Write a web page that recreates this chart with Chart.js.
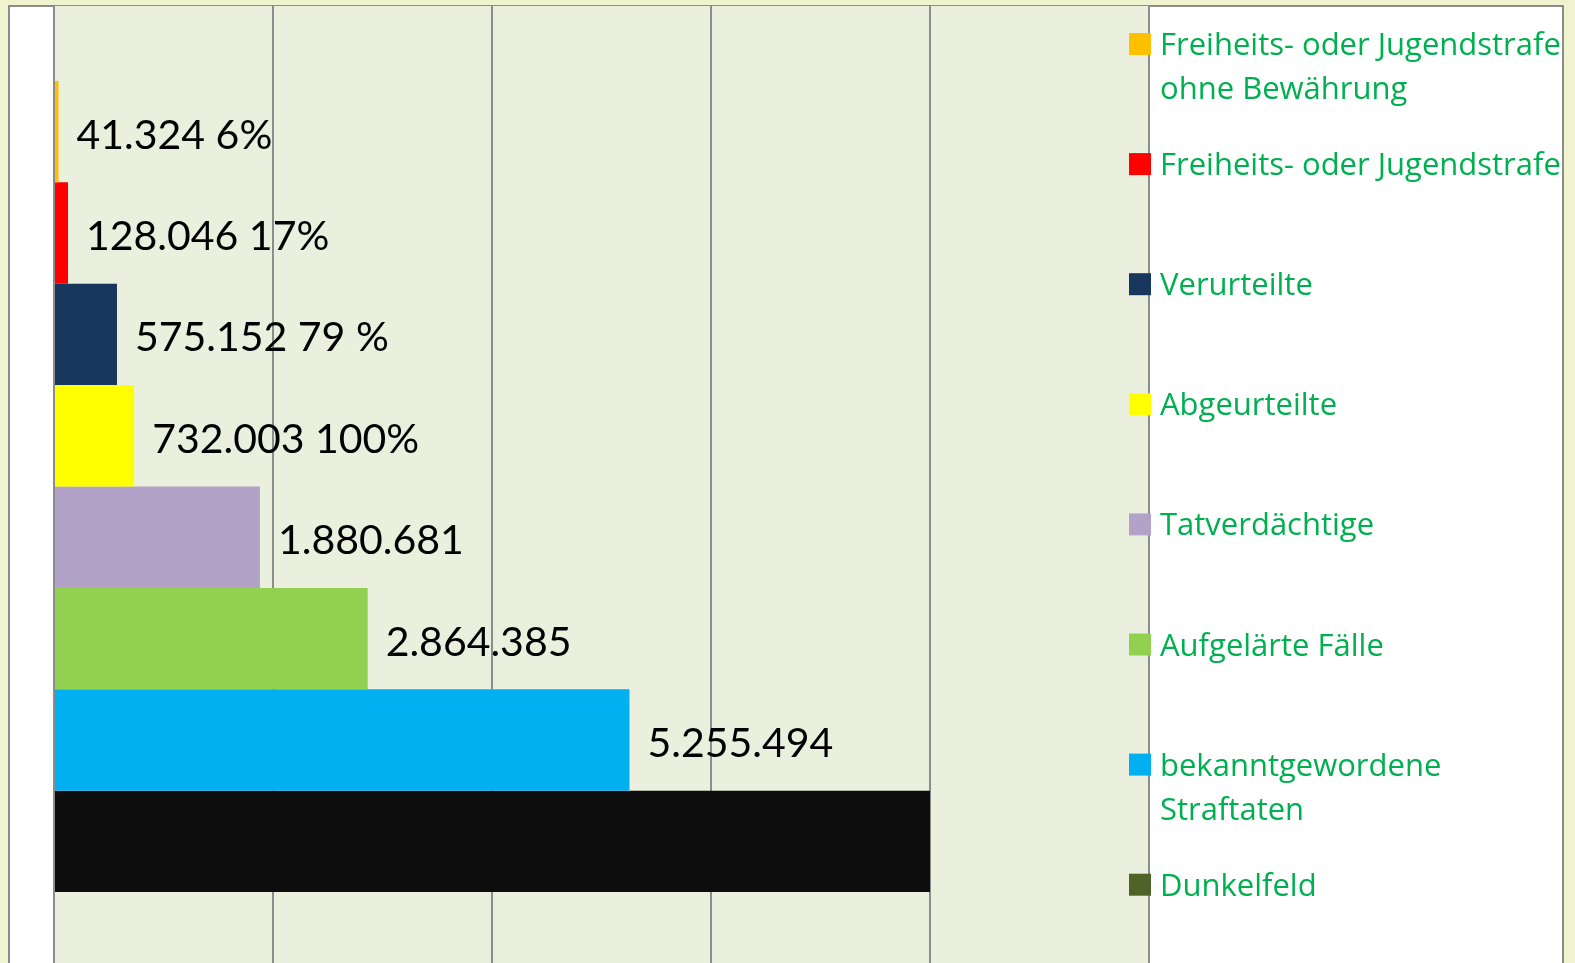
<!DOCTYPE html>
<html>
<head>
<meta charset="utf-8">
<script src="https://cdn.jsdelivr.net/npm/chart.js@4"></script>
<style>
  html, body { margin: 0; padding: 0; overflow: hidden; background: #eff4cf; }
  #wrap { width: 1575px; height: 963px; overflow: hidden; }
</style>
</head>
<body>
<div id="wrap"><canvas id="chart" width="1575" height="975"></canvas></div>
<script>
const seriesNames = [
  "Freiheits- oder Jugendstrafe\nohne Bewährung",
  "Freiheits- oder Jugendstrafe",
  "Verurteilte",
  "Abgeurteilte",
  "Tatverdächtige",
  "Aufgelärte Fälle",
  "bekanntgewordene\nStraftaten",
  "Dunkelfeld"
];
const seriesValues = [41324, 128046, 575152, 732003, 1880681, 2864385, 5255494, 8000000];
const valueLabels = ["41.324 6%", "128.046 17%", "575.152 79 %", "732.003 100%", "1.880.681", "2.864.385", "5.255.494", ""];
const barColors = ["#ffc000", "#ff0000", "#17375e", "#ffff00", "#b3a2c7", "#92d050", "#00b0f0", "#0d0d0d"];
const legendColors = ["#ffc000", "#ff0000", "#17375e", "#ffff00", "#b3a2c7", "#92d050", "#00b0f0", "#4f6228"];
const xTicks = [0, 2000000, 4000000, 6000000, 8000000, 10000000];

const frame = {
  id: "frame",
  beforeDraw(chart) {
    const { ctx, chartArea: a, width, height } = chart;
    ctx.save();
    ctx.fillStyle = "#eff4cf";
    ctx.fillRect(0, 0, width, height);
    ctx.fillStyle = "#ffffff";
    ctx.fillRect(9, 6, 1554, height - 8);
    ctx.strokeStyle = "#8c8c8c";
    ctx.lineWidth = 2;
    ctx.strokeRect(9, 6, 1554, height - 8);
    ctx.fillStyle = "#ebefde";
    ctx.fillRect(a.left, a.top, a.right - a.left, a.bottom - a.top);
    ctx.restore();
  },
  afterDraw(chart) {
    const { ctx, chartArea: a } = chart;
    ctx.save();
    // value labels next to the bars
    ctx.font = "41px Lato";
    ctx.fillStyle = "#000000";
    ctx.textAlign = "left";
    ctx.textBaseline = "alphabetic";
    chart.data.datasets.forEach((ds, i) => {
      const bar = chart.getDatasetMeta(i).data[0];
      if (!valueLabels[i]) return;
      ctx.fillText(valueLabels[i], bar.x + 18, bar.y + 17);
    });
    // legend, clipped by the outer frame like the original
    ctx.beginPath();
    ctx.rect(1100, 0, 463, chart.height);
    ctx.clip();
    ctx.font = "31px 'Open Sans'";
    chart.data.datasets.forEach((ds, i) => {
      const cy = a.top + 38 + i * 120.1;
      ctx.fillStyle = legendColors[i];
      ctx.fillRect(1129, cy - 11, 22, 22);
      ctx.fillStyle = "#00b050";
      seriesNames[i].split("\n").forEach((line, j) => {
        ctx.fillText(line, 1160, cy + 11 + j * 44);
      });
    });
    ctx.restore();
  }
};

new Chart(document.getElementById("chart"), {
  type: "bar",
  data: {
    labels: [""],
    datasets: seriesValues.map((v, i) => ({
      label: seriesNames[i].replace("\n", " "),
      data: [v],
      backgroundColor: barColors[i],
      borderWidth: 0
    }))
  },
  options: {
    indexAxis: "y",
    responsive: false,
    animation: false,
    devicePixelRatio: 1,
    barPercentage: 1,
    categoryPercentage: 0.844,
    layout: { padding: { left: 54, right: 426, top: 6, bottom: 8 } },
    plugins: { legend: { display: false }, tooltip: { enabled: false } },
    scales: {
      x: {
        min: 0,
        max: 10000000,
        afterBuildTicks: (axis) => { axis.ticks = xTicks.map((v) => ({ value: v })); },
        afterFit: (axis) => { axis.height = 0; },
        ticks: { display: false },
        grid: { color: "#8c8c8c", lineWidth: 2, drawTicks: false },
        border: { display: false }
      },
      y: { display: false }
    }
  },
  plugins: [frame]
});
</script>
</body>
</html>
